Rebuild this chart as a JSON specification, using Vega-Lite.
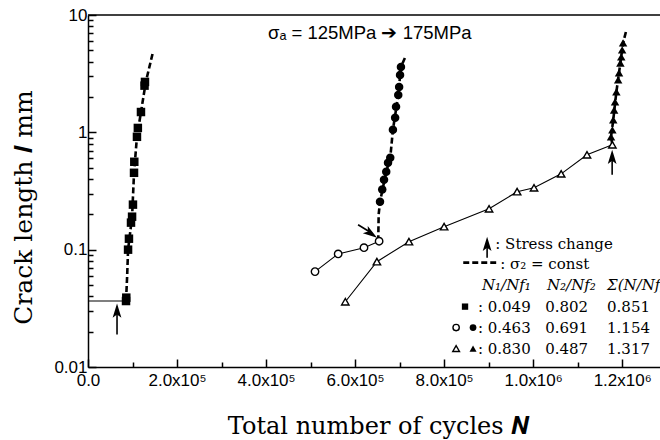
{
  "$schema": "https://vega.github.io/schema/vega-lite/v6.json",
  "width": 572,
  "height": 352,
  "autosize": "none",
  "padding": {"left": 88, "top": 15, "right": 0, "bottom": 73},
  "background": "white",
  "config": {"view": {"stroke": null}},
  "datasets": {
    "points": [
      {"spec": "A", "stage": 2, "N": 85400, "l": 0.0365},
      {"spec": "A", "stage": 2, "N": 86000, "l": 0.039},
      {"spec": "A", "stage": 2, "N": 90000, "l": 0.1},
      {"spec": "A", "stage": 2, "N": 92000, "l": 0.124},
      {"spec": "A", "stage": 2, "N": 96600, "l": 0.17},
      {"spec": "A", "stage": 2, "N": 99000, "l": 0.191},
      {"spec": "A", "stage": 2, "N": 101000, "l": 0.242},
      {"spec": "A", "stage": 2, "N": 103400, "l": 0.452},
      {"spec": "A", "stage": 2, "N": 104000, "l": 0.561},
      {"spec": "A", "stage": 2, "N": 110000, "l": 0.916},
      {"spec": "A", "stage": 2, "N": 112000, "l": 1.09},
      {"spec": "A", "stage": 2, "N": 119000, "l": 1.49},
      {"spec": "A", "stage": 2, "N": 127000, "l": 2.5},
      {"spec": "A", "stage": 2, "N": 128000, "l": 2.69},
      {"spec": "B", "stage": 1, "N": 510000, "l": 0.065},
      {"spec": "B", "stage": 1, "N": 562000, "l": 0.092},
      {"spec": "B", "stage": 1, "N": 620000, "l": 0.104},
      {"spec": "B", "stage": 1, "N": 654000, "l": 0.118},
      {"spec": "B", "stage": 2, "N": 656000, "l": 0.256},
      {"spec": "B", "stage": 2, "N": 661000, "l": 0.325},
      {"spec": "B", "stage": 2, "N": 665000, "l": 0.394},
      {"spec": "B", "stage": 2, "N": 670000, "l": 0.461},
      {"spec": "B", "stage": 2, "N": 674000, "l": 0.55},
      {"spec": "B", "stage": 2, "N": 679000, "l": 0.607},
      {"spec": "B", "stage": 2, "N": 685000, "l": 1.05},
      {"spec": "B", "stage": 2, "N": 690000, "l": 1.33},
      {"spec": "B", "stage": 2, "N": 692000, "l": 1.65},
      {"spec": "B", "stage": 2, "N": 697000, "l": 2.08},
      {"spec": "B", "stage": 2, "N": 699000, "l": 2.44},
      {"spec": "B", "stage": 2, "N": 701000, "l": 3.08},
      {"spec": "B", "stage": 2, "N": 703000, "l": 3.61},
      {"spec": "C", "stage": 1, "N": 578000, "l": 0.036},
      {"spec": "C", "stage": 1, "N": 649000, "l": 0.079},
      {"spec": "C", "stage": 1, "N": 721000, "l": 0.117},
      {"spec": "C", "stage": 1, "N": 800000, "l": 0.157},
      {"spec": "C", "stage": 1, "N": 901000, "l": 0.223},
      {"spec": "C", "stage": 1, "N": 964000, "l": 0.312},
      {"spec": "C", "stage": 1, "N": 1002000, "l": 0.337},
      {"spec": "C", "stage": 1, "N": 1063000, "l": 0.443},
      {"spec": "C", "stage": 1, "N": 1121000, "l": 0.644},
      {"spec": "C", "stage": 1, "N": 1178000, "l": 0.783},
      {"spec": "C", "stage": 2, "N": 1175000, "l": 0.916},
      {"spec": "C", "stage": 2, "N": 1178000, "l": 1.05},
      {"spec": "C", "stage": 2, "N": 1180000, "l": 1.28},
      {"spec": "C", "stage": 2, "N": 1182000, "l": 1.55},
      {"spec": "C", "stage": 2, "N": 1184000, "l": 1.82},
      {"spec": "C", "stage": 2, "N": 1187000, "l": 2.21},
      {"spec": "C", "stage": 2, "N": 1191000, "l": 2.8},
      {"spec": "C", "stage": 2, "N": 1193000, "l": 3.21},
      {"spec": "C", "stage": 2, "N": 1196000, "l": 3.9},
      {"spec": "C", "stage": 2, "N": 1198000, "l": 4.39},
      {"spec": "C", "stage": 2, "N": 1200000, "l": 5.04},
      {"spec": "C", "stage": 2, "N": 1202000, "l": 5.78}
    ],
    "curves": [
      {"spec": "A", "stage": 1, "N": 0, "l": 0.0365},
      {"spec": "A", "stage": 1, "N": 85400, "l": 0.0365},
      {"spec": "B", "stage": 1, "N": 510000, "l": 0.065},
      {"spec": "B", "stage": 1, "N": 562000, "l": 0.092},
      {"spec": "B", "stage": 1, "N": 620000, "l": 0.104},
      {"spec": "B", "stage": 1, "N": 654000, "l": 0.118},
      {"spec": "C", "stage": 1, "N": 578000, "l": 0.036},
      {"spec": "C", "stage": 1, "N": 649000, "l": 0.079},
      {"spec": "C", "stage": 1, "N": 721000, "l": 0.117},
      {"spec": "C", "stage": 1, "N": 800000, "l": 0.157},
      {"spec": "C", "stage": 1, "N": 901000, "l": 0.223},
      {"spec": "C", "stage": 1, "N": 964000, "l": 0.312},
      {"spec": "C", "stage": 1, "N": 1002000, "l": 0.337},
      {"spec": "C", "stage": 1, "N": 1063000, "l": 0.443},
      {"spec": "C", "stage": 1, "N": 1121000, "l": 0.644},
      {"spec": "C", "stage": 1, "N": 1178000, "l": 0.783},
      {"spec": "A", "stage": 2, "N": 85400, "l": 0.0365},
      {"spec": "A", "stage": 2, "N": 88000, "l": 0.06},
      {"spec": "A", "stage": 2, "N": 90000, "l": 0.1},
      {"spec": "A", "stage": 2, "N": 99000, "l": 0.19},
      {"spec": "A", "stage": 2, "N": 103400, "l": 0.45},
      {"spec": "A", "stage": 2, "N": 110000, "l": 0.92},
      {"spec": "A", "stage": 2, "N": 119000, "l": 1.49},
      {"spec": "A", "stage": 2, "N": 130000, "l": 2.7},
      {"spec": "A", "stage": 2, "N": 146000, "l": 4.84},
      {"spec": "B", "stage": 2, "N": 652000, "l": 0.118},
      {"spec": "B", "stage": 2, "N": 653000, "l": 0.2},
      {"spec": "B", "stage": 2, "N": 656000, "l": 0.256},
      {"spec": "B", "stage": 2, "N": 670000, "l": 0.461},
      {"spec": "B", "stage": 2, "N": 679000, "l": 0.607},
      {"spec": "B", "stage": 2, "N": 685000, "l": 1.05},
      {"spec": "B", "stage": 2, "N": 697000, "l": 2.08},
      {"spec": "B", "stage": 2, "N": 703000, "l": 3.61},
      {"spec": "B", "stage": 2, "N": 712000, "l": 4.31},
      {"spec": "C", "stage": 2, "N": 1178000, "l": 0.783},
      {"spec": "C", "stage": 2, "N": 1175000, "l": 0.916},
      {"spec": "C", "stage": 2, "N": 1180000, "l": 1.28},
      {"spec": "C", "stage": 2, "N": 1187000, "l": 2.21},
      {"spec": "C", "stage": 2, "N": 1196000, "l": 3.9},
      {"spec": "C", "stage": 2, "N": 1202000, "l": 5.78},
      {"spec": "C", "stage": 2, "N": 1209000, "l": 7.31}
    ]
  },
  "resolve": {"axis": {"x": "independent", "y": "independent"}},
  "layer": [
    {
      "data": {"name": "curves"},
      "transform": [{"filter": "datum.stage == 1"}],
      "mark": {"type": "line", "color": "black", "strokeWidth": 1.1},
      "encoding": {
        "x": {
          "field": "N", "type": "quantitative",
          "scale": {"domain": [0, 1285000], "nice": false, "zero": false},
          "axis": {
            "orient": "bottom",
            "values": [0, 200000, 400000, 600000, 800000, 1000000, 1200000],
            "labelExpr": "datum.value == 0 ? '0.0' : (datum.value < 1000000 ? format(datum.value/100000, '.1f') + 'x10⁵' : format(datum.value/1000000, '.1f') + 'x10⁶')",
            "tickSize": -8,
            "tickColor": "black", "tickWidth": 1.5,
            "domainColor": "black", "domainWidth": 1.5,
            "grid": false,
            "labelFont": "Liberation Sans", "labelFontSize": 17, "labelColor": "black",
            "labelPadding": 13, "labelFlush": false, "labelOverlap": false,
            "title": "Total number of cycles  𝑵",
            "titleFont": "DejaVu Serif", "titleFontSize": 24, "titleFontWeight": "normal", "titleColor": "black",
            "titleX": 290, "titleY": 66, "titleAlign": "center", "titleBaseline": "alphabetic"
          }
        },
        "y": {
          "field": "l", "type": "quantitative",
          "scale": {"type": "log", "domain": [0.01, 10], "nice": false},
          "axis": {
            "orient": "left",
            "values": [0.01, 0.1, 1, 10],
            "labelExpr": "toString(datum.value)",
            "tickSize": -8,
            "tickColor": "black", "tickWidth": 1.5,
            "domainColor": "black", "domainWidth": 1.5,
            "grid": false,
            "labelFont": "Liberation Sans", "labelFontSize": 17, "labelColor": "black",
            "labelPadding": 9, "labelFlush": false, "labelOverlap": false,
            "title": "Crack length  𝒍  mm",
            "titleFont": "DejaVu Serif", "titleFontSize": 25, "titleFontWeight": "normal", "titleColor": "black",
            "titleX": -57, "titleY": 192, "titleAlign": "center", "titleBaseline": "alphabetic", "titleAngle": 270
          }
        },
        "detail": {"field": "spec"},
        "order": {"field": "l"}
      }
    },
    {
      "data": {"name": "curves"},
      "transform": [{"filter": "datum.stage == 2"}],
      "mark": {"type": "line", "color": "black", "strokeWidth": 2.6, "strokeDash": [6, 3]},
      "encoding": {
        "x": {
          "field": "N", "type": "quantitative",
          "axis": {
            "orient": "bottom",
            "values": [100000, 300000, 500000, 700000, 900000, 1100000],
            "labels": false, "domain": false, "grid": false, "title": null,
            "tickSize": -5, "tickColor": "black", "tickWidth": 1.5
          }
        },
        "y": {
          "field": "l", "type": "quantitative",
          "axis": {
            "orient": "left",
            "values": [0.02, 0.03, 0.04, 0.05, 0.06, 0.07, 0.08, 0.09, 0.2, 0.3, 0.4, 0.5, 0.6, 0.7, 0.8, 0.9, 2, 3, 4, 5, 6, 7, 8, 9],
            "labels": false, "domain": false, "grid": false, "title": null,
            "tickSize": -5, "tickColor": "black", "tickWidth": 1.5
          }
        },
        "detail": {"field": "spec"},
        "order": {"field": "l"}
      }
    },
    {
      "data": {"name": "points"},
      "transform": [{"filter": "datum.stage == 1"}],
      "mark": {"type": "point", "filled": false, "fill": "white", "fillOpacity": 1, "stroke": "black", "strokeWidth": 1.4, "opacity": 1},
      "encoding": {
        "x": {"field": "N", "type": "quantitative", "axis": null},
        "y": {"field": "l", "type": "quantitative", "axis": null},
        "shape": {"field": "spec", "type": "nominal", "scale": {"domain": ["A", "B", "C"], "range": ["square", "circle", "triangle-up"]}, "legend": null},
        "size": {"value": 55}
      }
    },
    {
      "data": {"name": "points"},
      "transform": [{"filter": "datum.stage == 2"}],
      "mark": {"type": "point", "filled": true, "color": "black", "opacity": 1},
      "encoding": {
        "x": {"field": "N", "type": "quantitative", "axis": null},
        "y": {"field": "l", "type": "quantitative", "axis": null},
        "shape": {"field": "spec", "type": "nominal", "scale": {"domain": ["A", "B", "C"], "range": ["square", "circle", "triangle-up"]}, "legend": null},
        "size": {"value": 72}
      }
    },
    {"data": {"values": [{}]}, "mark": {"type": "rule", "color": "black", "strokeWidth": 1.5}, "encoding": {"y": {"datum": 10, "axis": null}}},
    {"data": {"values": [{}]}, "mark": {"type": "rule", "color": "black", "strokeWidth": 1.6}, "encoding": {"x": {"datum": 65200, "axis": null}, "y": {"datum": 0.0189, "axis": null}, "y2": {"datum": 0.031}}},
    {"data": {"values": [{}]}, "mark": {"type": "point", "filled": true, "color": "black", "opacity": 1, "size": 120, "shape": "M0,0L0.8,2.6L0,2L-0.8,2.6Z"}, "encoding": {"x": {"datum": 65200, "axis": null}, "y": {"datum": 0.0347, "axis": null}}},
    {"data": {"values": [{}]}, "mark": {"type": "rule", "color": "black", "strokeWidth": 1.6}, "encoding": {"x": {"datum": 606700, "axis": null}, "y": {"datum": 0.163, "axis": null}, "x2": {"datum": 638000}, "y2": {"datum": 0.138}}},
    {"data": {"values": [{}]}, "mark": {"type": "point", "filled": true, "color": "black", "opacity": 1, "size": 120, "angle": 124, "shape": "M0,0L0.8,2.6L0,2L-0.8,2.6Z"}, "encoding": {"x": {"datum": 649400, "axis": null}, "y": {"datum": 0.1265, "axis": null}}},
    {"data": {"values": [{}]}, "mark": {"type": "rule", "color": "black", "strokeWidth": 1.6}, "encoding": {"x": {"datum": 1177500, "axis": null}, "y": {"datum": 0.435, "axis": null}, "y2": {"datum": 0.64}}},
    {"data": {"values": [{}]}, "mark": {"type": "point", "filled": true, "color": "black", "opacity": 1, "size": 120, "shape": "M0,0L0.8,2.6L0,2L-0.8,2.6Z"}, "encoding": {"x": {"datum": 1177500, "axis": null}, "y": {"datum": 0.71, "axis": null}}},
    {"data": {"values": [{}]}, "mark": {"type": "rule", "color": "black", "strokeWidth": 1.6}, "encoding": {"x": {"datum": 896600, "axis": null}, "y": {"datum": 0.0855, "axis": null}, "y2": {"datum": 0.117}}},
    {"data": {"values": [{}]}, "mark": {"type": "point", "filled": true, "color": "black", "opacity": 1, "size": 120, "shape": "M0,0L0.8,2.6L0,2L-0.8,2.6Z"}, "encoding": {"x": {"datum": 896600, "axis": null}, "y": {"datum": 0.129, "axis": null}}},
    {"data": {"values": [{}]}, "mark": {"type": "rule", "color": "black", "strokeWidth": 2.6, "strokeDash": [6, 3]}, "encoding": {"x": {"datum": 843000, "axis": null}, "x2": {"datum": 917000}, "y": {"datum": 0.0775, "axis": null}}},
    {"data": {"values": [{}]}, "mark": {"type": "text", "align": "left", "baseline": "middle", "font": "DejaVu Serif", "fontSize": 15, "color": "black"}, "encoding": {"x": {"datum": 915000, "axis": null}, "y": {"datum": 0.1125, "axis": null}, "text": {"value": ": Stress change"}}},
    {"data": {"values": [{}]}, "mark": {"type": "text", "align": "left", "baseline": "middle", "font": "DejaVu Serif", "fontSize": 15, "color": "black"}, "encoding": {"x": {"datum": 926000, "axis": null}, "y": {"datum": 0.076, "axis": null}, "text": {"value": ": σ₂ = const"}}},
    {"data": {"values": [{}]}, "mark": {"type": "text", "align": "left", "baseline": "middle", "font": "DejaVu Serif", "fontSize": 15, "fontStyle": "italic", "color": "black"}, "encoding": {"x": {"datum": 885000, "axis": null}, "y": {"datum": 0.0504, "axis": null}, "text": {"value": "N₁/Nf₁"}}},
    {"data": {"values": [{}]}, "mark": {"type": "text", "align": "left", "baseline": "middle", "font": "DejaVu Serif", "fontSize": 15, "fontStyle": "italic", "color": "black"}, "encoding": {"x": {"datum": 1031000, "axis": null}, "y": {"datum": 0.0504, "axis": null}, "text": {"value": "N₂/Nf₂"}}},
    {"data": {"values": [{}]}, "mark": {"type": "text", "align": "left", "baseline": "middle", "font": "DejaVu Serif", "fontSize": 15, "fontStyle": "italic", "color": "black"}, "encoding": {"x": {"datum": 1166000, "axis": null}, "y": {"datum": 0.0504, "axis": null}, "text": {"value": "Σ(N/Nf)"}}},
    {"data": {"values": [{}]}, "mark": {"type": "text", "align": "left", "baseline": "middle", "font": "DejaVu Serif", "fontSize": 15, "lineHeight": 21, "color": "black"}, "encoding": {"x": {"datum": 876000, "axis": null}, "y": {"datum": 0.0327, "axis": null}, "text": {"value": [": 0.049", ": 0.463", ": 0.830"]}}},
    {"data": {"values": [{}]}, "mark": {"type": "text", "align": "left", "baseline": "middle", "font": "DejaVu Serif", "fontSize": 15, "lineHeight": 21, "color": "black"}, "encoding": {"x": {"datum": 1027000, "axis": null}, "y": {"datum": 0.0327, "axis": null}, "text": {"value": ["0.802", "0.691", "0.487"]}}},
    {"data": {"values": [{}]}, "mark": {"type": "text", "align": "left", "baseline": "middle", "font": "DejaVu Serif", "fontSize": 15, "lineHeight": 21, "color": "black"}, "encoding": {"x": {"datum": 1166000, "axis": null}, "y": {"datum": 0.0327, "axis": null}, "text": {"value": ["0.851", "1.154", "1.317"]}}},
    {"data": {"values": [{}]}, "mark": {"type": "point", "filled": true, "color": "black", "opacity": 1, "shape": "square", "size": 40}, "encoding": {"x": {"datum": 847000, "axis": null}, "y": {"datum": 0.0327, "axis": null}}},
    {"data": {"values": [{}]}, "mark": {"type": "point", "filled": false, "fill": "white", "stroke": "black", "strokeWidth": 1.4, "opacity": 1, "shape": "circle", "size": 40}, "encoding": {"x": {"datum": 827000, "axis": null}, "y": {"datum": 0.0217, "axis": null}}},
    {"data": {"values": [{}]}, "mark": {"type": "point", "filled": true, "color": "black", "opacity": 1, "shape": "circle", "size": 45}, "encoding": {"x": {"datum": 865000, "axis": null}, "y": {"datum": 0.0217, "axis": null}}},
    {"data": {"values": [{}]}, "mark": {"type": "point", "filled": false, "fill": "white", "stroke": "black", "strokeWidth": 1.4, "opacity": 1, "shape": "triangle-up", "size": 45}, "encoding": {"x": {"datum": 827000, "axis": null}, "y": {"datum": 0.01435, "axis": null}}},
    {"data": {"values": [{}]}, "mark": {"type": "point", "filled": true, "color": "black", "opacity": 1, "shape": "triangle-up", "size": 50}, "encoding": {"x": {"datum": 865000, "axis": null}, "y": {"datum": 0.01435, "axis": null}}},
    {"data": {"values": [{}]}, "mark": {"type": "text", "align": "left", "baseline": "middle", "font": "Liberation Sans", "fontSize": 18.5, "color": "black"}, "encoding": {"x": {"datum": 404500, "axis": null}, "y": {"datum": 7.03, "axis": null}, "text": {"value": "σₐ = 125MPa ➔ 175MPa"}}}
  ]
}
